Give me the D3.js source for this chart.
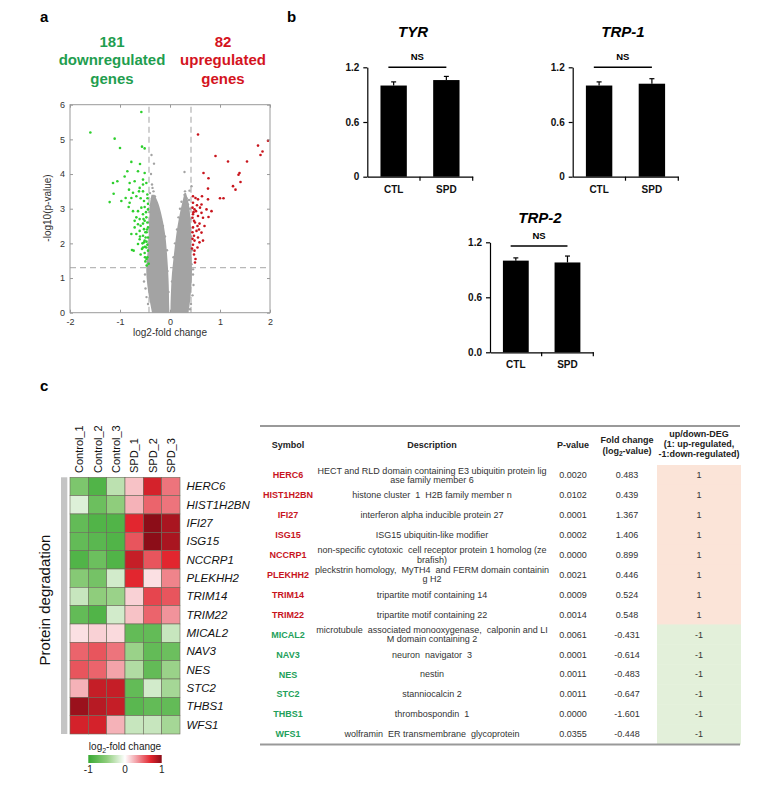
<!DOCTYPE html>
<html><head><meta charset="utf-8">
<script src="https://cdn.jsdelivr.net/npm/d3@7"></script>
<style>body{margin:0;background:#fff} text{font-family:Arial,"Liberation Sans",sans-serif}</style>
</head><body><svg id="c" width="760" height="795"></svg>
<script>
// ---------------- DATA ----------------
// Panel a: volcano (log2 fold change, -log10 p)
const greenPts = [[-0.573,5.79],[-1.593,5.2],[-1.107,5.02],[-1.0,4.75],[-0.56,4.79],[-0.507,4.74],[-0.773,4.35],[-0.6,4.29],
[-0.853,4.08],[-0.64,4.08],[-0.507,4.03],[-0.907,3.93],[-1.14,3.74],[-1.053,3.79],[-0.707,3.79],[-0.807,3.74],[-0.54,3.84],
[-0.473,3.74],[-0.607,3.6],[-0.82,3.55],[-0.74,3.46],[-1.127,3.43],[-0.54,3.5],[-0.453,3.41],[-0.673,3.36],[-0.587,3.3],
[-0.52,3.22],[-0.973,3.22],[-1.207,3.19],[-0.807,3.17],[-0.44,3.14],[-0.507,3.05],[-0.827,3.05],[-0.64,2.93],[-0.44,2.98],
[-0.54,2.84],[-0.673,2.75],[-0.607,2.7],[-0.473,2.75],[-0.453,2.6],[-0.54,2.57],[-0.64,2.55],[-0.707,2.46],[-0.44,2.46],
[-0.52,2.41],[-0.607,2.36],[-0.467,2.32],[-0.773,2.27],[-0.54,2.22],[-0.44,2.17],[-0.607,2.12],[-0.507,2.08],[-0.64,1.98],
[-0.453,1.96],[-0.54,1.88],[-0.76,1.81],[-0.727,1.79],[-0.44,1.79],[-0.507,1.72],[-0.587,1.68],[-0.453,1.6],[-0.493,1.48],
[-0.427,1.41],[-0.467,1.36],[-0.493,2.32],[-0.487,2.17],[-0.52,2.03],[-0.56,1.84],[-0.473,1.88],[-0.673,2.27],[-0.587,2.51],
[-0.507,2.65],[-0.707,2.65],[-0.573,3.03],[-0.74,2.93],[-0.887,3.31],[-0.62,3.5],[-0.773,3.31],[-0.54,3.7],[-0.47,2.05],
[-0.5,1.9],[-0.46,2.4],[-0.53,2.7],[-0.48,2.9],[-0.45,3.3],[-0.6,2.2],[-0.55,2.0],[-0.47,1.55],[-0.5,1.6]];
const redPts = [[0.56,5.14],[1.96,4.96],[1.76,4.82],[1.85,4.65],[1.81,4.55],[0.91,4.52],[1.16,4.36],[1.54,4.36],[0.67,4.03],
[1.39,4.03],[1.37,3.98],[0.77,3.88],[1.41,3.77],[1.26,3.65],[0.76,3.58],[1.31,3.55],[1.07,3.3],[1.0,3.3],[0.64,3.36],[0.76,3.27],
[0.46,3.36],[0.51,3.31],[0.56,3.27],[0.63,3.12],[0.46,3.17],[0.6,3.03],[0.49,2.98],[0.73,2.98],[0.83,2.93],[0.46,2.84],[0.56,2.79],
[0.66,2.74],[0.77,2.76],[0.48,2.65],[0.59,2.57],[0.69,2.5],[0.46,2.46],[0.53,2.36],[0.63,2.31],[0.48,2.22],[0.56,2.17],[0.49,2.08],
[0.59,2.03],[0.46,1.96],[0.55,1.88],[0.49,1.79],[0.48,1.68],[0.45,2.13],[0.45,2.32],[0.45,2.74],[0.45,3.03],[0.52,2.93],[0.63,2.88],
[0.55,2.5],[0.66,2.08],[0.51,1.55],[0.5,2.6],[0.47,2.9],[0.54,3.1],[0.44,1.85],[0.58,2.4],[0.5,1.45]];
const grayPts = [[-0.37,4.55],[-0.32,4.3],[-0.38,4.0],[-0.36,3.7],[-0.33,3.5],[-0.3,3.35],[-0.36,3.3],[-0.27,3.15],[-0.22,2.9],
[-0.18,2.7],[-0.35,3.6],[-0.4,3.45],[0.29,4.06],[0.43,3.65],[0.29,3.4],[0.33,3.3],[0.39,3.52],[0.23,3.2],[0.36,3.12],[0.3,3.5],
[0.2,3.0],[0.17,2.75],[-0.5,1.1],[-0.52,0.9],[-0.49,0.7],[-0.47,0.45],[-0.44,0.25],[0.46,1.1],[0.47,0.8],[0.45,0.5],[0.42,0.25],
[0.46,1.25],[0.4,0.1],[-0.06,1.8],[-0.1,2.2],[-0.05,1.2],[0.07,1.6],[0.1,2.0],[0.14,2.4],[-0.14,2.5],[0.04,0.9],[-0.03,0.6],
[-0.43,2.0],[-0.42,2.6],[-0.41,2.9],[-0.44,1.6],[0.42,2.2],[0.41,2.7],[0.4,3.0],[0.44,1.8],[0.43,1.4],[-0.39,3.1],[0.38,3.25]];
// dense grey core of the two arms: [-log10 p, outer log2FC, inner log2FC]
const grayLeftArm = [[0,-0.36,-0.01],[0.3,-0.40,-0.02],[0.6,-0.44,-0.02],[1.0,-0.47,-0.03],[1.3,-0.48,-0.04],[1.7,-0.45,-0.06],
[2.1,-0.43,-0.08],[2.5,-0.42,-0.12],[2.9,-0.41,-0.18],[3.2,-0.40,-0.24],[3.4,-0.37,-0.31]];
const grayRightArm = [[0,0.37,0.01],[0.3,0.40,0.01],[0.6,0.42,0.02],[1.0,0.44,0.03],[1.3,0.44,0.05],[1.7,0.43,0.08],
[2.1,0.43,0.11],[2.5,0.42,0.15],[2.9,0.40,0.2],[3.2,0.37,0.25],[3.45,0.32,0.29]];
const volXTicks = [-2,-1,0,1,2];
const volYTicks = [0,1,2,3,4,5,6];
const fcCut = 0.42, pCut = 1.301;

// Panel b: bar charts
const barGenes = ["TYR","TRP-1","TRP-2"];
const barGroups = ["CTL","SPD"];
const barMeans = [[1.0,1.06],[1.0,1.02],[1.0,0.98]];
const barErrs = [[0.04,0.04],[0.04,0.055],[0.03,0.07]];
const barTicks = [0,0.6,1.2];
const barTickLabels = [["0","0.6","1.2"],["0","0.6","1.2"],["0.0","0.6","1.2"]];
const nsLevel = [1.2,1.2,1.16];

// Panel c: heatmap
const samples = ["Control_1","Control_2","Control_3","SPD_1","SPD_2","SPD_3"];
const hmGenes = ["HERC6","HIST1H2BN","IFI27","ISG15","NCCRP1","PLEKHH2","TRIM14","TRIM22","MICAL2","NAV3","NES","STC2","THBS1","WFS1"];
const hmValues = [
 [-0.6,-0.85,-0.3,0.2,0.75,0.45],
 [-0.15,-0.7,-0.5,0.25,0.5,0.45],
 [-0.75,-0.85,-0.85,0.7,1.0,0.9],
 [-0.75,-0.8,-0.85,0.55,1.0,0.9],
 [-0.85,-0.7,-0.85,0.8,0.55,0.7],
 [-0.55,-0.65,-0.2,0.7,0.1,0.4],
 [-0.25,-0.5,-0.45,0.15,0.6,0.55],
 [-0.75,-0.85,-0.2,0.2,0.5,0.35],
 [0.1,0.15,0.12,-0.75,-0.75,-0.25],
 [0.5,0.55,0.45,-0.45,-0.75,-0.7],
 [0.55,0.5,0.3,-0.35,-0.75,-0.45],
 [0.25,0.8,0.8,-0.75,-0.2,-0.4],
 [0.95,0.85,0.8,-0.8,-0.75,-0.75],
 [0.75,0.75,0.25,-0.25,-0.25,-0.4]];
const cbTicks = [-1,0,1];

// Panel c: table
const tSymbols = hmGenes;
const tDesc = ["HECT and RLD domain containing E3 ubiquitin protein lig|ase family member 6",
 "histone cluster  1  H2B family member n","interferon alpha inducible protein 27","ISG15 ubiquitin-like modifier",
 "non-specific cytotoxic  cell receptor protein 1 homolog (ze|brafish)",
 "pleckstrin homology,  MyTH4  and FERM domain containin|g H2","tripartite motif containing 14","tripartite motif containing 22",
 "microtubule  associated monooxygenase,  calponin and LI|M domain containing 2","neuron  navigator  3","nestin","stanniocalcin 2",
 "thrombospondin  1","wolframin  ER transmembrane  glycoprotein"];
const tPval = ["0.0020","0.0102","0.0001","0.0002","0.0000","0.0021","0.0009","0.0014","0.0061","0.0001","0.0011","0.0011","0.0000","0.0355"];
const tFC = ["0.483","0.439","1.367","1.406","0.899","0.446","0.524","0.548","-0.431","-0.614","-0.483","-0.647","-1.601","-0.448"];
const tDEG = [1,1,1,1,1,1,1,1,-1,-1,-1,-1,-1,-1];

// ---------------- DRAW ----------------
const svg = d3.select("#c");
svg.append("rect").attr("width",760).attr("height",795).attr("fill","#fff");
const GREEN="#1f9e4f", RED="#d4141e";

// panel labels
[["a",40,22],["b",287,22],["c",40,391]].forEach(([t,x,y])=>svg.append("text").attr("x",x).attr("y",y)
  .attr("font-size",15).attr("font-weight","bold").text(t));

// ---- Panel a ----
const hdr = svg.append("g").attr("font-size",15).attr("font-weight","bold").attr("text-anchor","middle");
["181","downregulated","genes"].forEach((t,i)=>hdr.append("text").attr("x",112).attr("y",47+i*18.3).attr("fill",GREEN).text(t));
["82","upregulated","genes"].forEach((t,i)=>hdr.append("text").attr("x",223).attr("y",47+i*18.3).attr("fill",RED).text(t));

const vx = d3.scaleLinear().domain([-2,2]).range([70,270]);
const vy = d3.scaleLinear().domain([0,6]).range([312.7,104.7]);
const va = svg.append("g");
va.append("line").attr("x1",vx(-2)).attr("x2",vx(2)).attr("y1",vy(pCut)).attr("y2",vy(pCut));
[-fcCut,fcCut].forEach(v=>va.append("line").attr("x1",vx(v)).attr("x2",vx(v)).attr("y1",vy(0)).attr("y2",vy(6)));
va.selectAll("line").attr("stroke","#b8b8b8").attr("stroke-width",1.3).attr("stroke-dasharray","6,4");
const armArea = d3.area().curve(d3.curveBasis).y(d=>vy(d[0])).x0(d=>vx(d[1])).x1(d=>vx(d[2]));
[grayLeftArm,grayRightArm].forEach(arm=>va.append("path").attr("d",armArea(arm)).attr("fill","#a3a3a3"));
va.selectAll("circle.g").data(grayPts).join("circle").attr("class","g").attr("cx",d=>vx(d[0])).attr("cy",d=>vy(d[1])).attr("r",1.2).attr("fill","#a3a3a3");
va.selectAll("circle.gr").data(greenPts).join("circle").attr("class","gr").attr("cx",d=>vx(d[0])).attr("cy",d=>vy(d[1])).attr("r",1.3).attr("fill","#2ecf2e");
va.selectAll("circle.rd").data(redPts).join("circle").attr("class","rd").attr("cx",d=>vx(d[0])).attr("cy",d=>vy(d[1])).attr("r",1.3).attr("fill","#c8141c");
va.append("rect").attr("x",vx(-2)).attr("y",vy(6)).attr("width",vx(2)-vx(-2)).attr("height",vy(0)-vy(6)).attr("fill","none").attr("stroke","#9a9a9a");
const styleAx = g=>{g.select(".domain").remove(); g.selectAll("line").attr("stroke","#9a9a9a"); g.selectAll("text").attr("fill","#333").attr("font-size",9);};
const intFmt = d=>String(d);
va.append("g").attr("transform",`translate(0,${vy(0)})`).call(d3.axisBottom(vx).tickValues(volXTicks).tickFormat(intFmt).tickSize(-3).tickPadding(6)).call(styleAx);
va.append("g").attr("transform",`translate(0,${vy(6)})`).call(d3.axisTop(vx).tickValues(volXTicks).tickSize(-3).tickFormat("")).call(styleAx);
va.append("g").attr("transform",`translate(${vx(-2)},0)`).call(d3.axisLeft(vy).tickValues(volYTicks).tickFormat(intFmt).tickSize(-3).tickPadding(5)).call(styleAx);
va.append("g").attr("transform",`translate(${vx(2)},0)`).call(d3.axisRight(vy).tickValues(volYTicks).tickSize(-3).tickFormat("")).call(styleAx);
va.append("text").attr("x",170).attr("y",336).attr("text-anchor","middle").attr("font-size",10).attr("fill","#333").text("log2-fold change");
va.append("text").attr("transform","translate(51,208) rotate(-90)").attr("text-anchor","middle").attr("font-size",10).attr("fill","#333").text("-log10(p-value)");

// ---- Panel b ----
const barLayout = [{x0:367.3,x1:472.7,yb:176.7,yt:67.3,tx:413,ty:37},
                   {x0:572.7,x1:678.3,yb:176.7,yt:67.3,tx:623,ty:37},
                   {x0:490,x1:593.3,yb:352.3,yt:242.3,tx:540,ty:223}];
barGenes.forEach((gName,i)=>{
  const L = barLayout[i];
  const g = svg.append("g");
  const x = d3.scaleBand().domain(barGroups).range([L.x0,L.x1]).paddingInner(0.5).paddingOuter(0.25);
  const y = d3.scaleLinear().domain([0,1.2]).range([L.yb,L.yt]);
  g.append("text").attr("x",L.tx).attr("y",L.ty).attr("text-anchor","middle").attr("font-size",15)
    .attr("font-weight","bold").attr("font-style","italic").text(gName);
  g.selectAll("rect").data(barGroups).join("rect").attr("x",d=>x(d)).attr("width",x.bandwidth())
    .attr("y",(d,j)=>y(barMeans[i][j])).attr("height",(d,j)=>y(0)-y(barMeans[i][j])).attr("fill","#000");
  barGroups.forEach((d,j)=>{
    const cx = x(d)+x.bandwidth()/2, m=barMeans[i][j], e=barErrs[i][j];
    g.append("line").attr("x1",cx).attr("x2",cx).attr("y1",y(m)).attr("y2",y(m+e)).attr("stroke","#000").attr("stroke-width",1.2);
    g.append("line").attr("x1",cx-2.5).attr("x2",cx+2.5).attr("y1",y(m+e)).attr("y2",y(m+e)).attr("stroke","#000").attr("stroke-width",1.2);
  });
  const ya = g.append("g").attr("transform",`translate(${L.x0},0)`)
    .call(d3.axisLeft(y).tickValues(barTicks).tickFormat((d,j)=>barTickLabels[i][j]).tickSize(4).tickSizeOuter(0).tickPadding(4));
  ya.selectAll("text").attr("font-size",10).attr("font-weight","bold").attr("fill","#111");
  ya.selectAll("line,path").attr("stroke","#000").attr("stroke-width",1.2);
  const xa = g.append("g").attr("transform",`translate(0,${L.yb})`).call(d3.axisBottom(x).tickSize(0).tickPadding(9));
  xa.select(".domain").attr("stroke","#000").attr("stroke-width",1.2);
  xa.selectAll("text").attr("font-size",10).attr("font-weight","bold").attr("fill","#111");
  [1,2].forEach(k=>{const bx = Math.min(L.x0 + x.step()*k, L.x1);
    g.append("line").attr("x1",bx).attr("x2",bx).attr("y1",L.yb).attr("y2",L.yb+4).attr("stroke","#000").attr("stroke-width",1.2);});
  const nx1 = x("CTL")+x.bandwidth()*0.3, nx2 = x("SPD")+x.bandwidth()*0.5, ny=y(nsLevel[i]);
  g.append("line").attr("x1",nx1).attr("x2",nx2).attr("y1",ny).attr("y2",ny).attr("stroke","#000").attr("stroke-width",1.5);
  g.append("text").attr("x",(nx1+nx2)/2).attr("y",ny-7).attr("text-anchor","middle").attr("font-size",9.5).attr("font-weight","bold").text("NS");
});

// ---- Panel c: heatmap ----
const hx = d3.scaleBand().domain(samples).range([70,180]);
const hy = d3.scaleBand().domain(hmGenes).range([477.3,734]);
const hmColor = d3.scaleLinear().domain([-1,-0.5,0,0.3,0.7,1])
  .range(["#37a932","#8fcd7c","#ffffff","#f3a3aa","#e2262f","#8c0d18"]).clamp(true);
const hm = svg.append("g");
svg.append("rect").attr("x",61).attr("y",477.3).attr("width",6.3).attr("height",734-477.3).attr("fill","#c4c4c4");
hmGenes.forEach((gn,r)=>samples.forEach((s,c)=>{
  hm.append("rect").attr("x",hx(s)).attr("y",hy(gn)).attr("width",hx.bandwidth()).attr("height",hy.bandwidth())
    .attr("fill",hmColor(hmValues[r][c])).attr("stroke","#6b6b5a").attr("stroke-width",0.6);
}));
samples.forEach(s=>svg.append("text").attr("transform",`translate(${hx(s)+hx.bandwidth()/2+4},473) rotate(-90)`)
  .attr("font-size",11).attr("fill","#111").text(s));
hmGenes.forEach(gn=>svg.append("text").attr("x",186.5).attr("y",hy(gn)+hy.bandwidth()/2+4)
  .attr("font-size",11.5).attr("font-style","italic").attr("fill","#111").text(gn));
svg.append("text").attr("transform","translate(50,600) rotate(-90)").attr("text-anchor","middle").attr("font-size",15).attr("fill","#111").text("Protein degradation");
const cbx = d3.scaleLinear().domain([-1,1]).range([88.3,161.7]);
const grad = svg.append("defs").append("linearGradient").attr("id","cbg");
d3.range(0,1.0001,0.05).forEach(t=>grad.append("stop").attr("offset",t).attr("stop-color",hmColor(-1+2*t)));
svg.append("rect").attr("x",cbx(-1)).attr("y",755).attr("width",cbx(1)-cbx(-1)).attr("height",8).attr("fill","url(#cbg)");
const cbt = svg.append("text").attr("x",125).attr("y",750).attr("text-anchor","middle").attr("font-size",10).attr("fill","#222");
cbt.append("tspan").text("log");
cbt.append("tspan").attr("font-size",7).attr("dy",3).text("2");
cbt.append("tspan").attr("dy",-3).text("-fold change");
cbTicks.forEach(v=>svg.append("text").attr("x",cbx(v)).attr("y",773).attr("text-anchor","middle").attr("font-size",10).attr("fill","#222").text(v));

// ---- Panel c: table ----
const colX = {sym:288, desc:432, p:573, fc:627, deg:699};
const ty = d3.scaleBand().domain(tSymbols).range([465,744]);
const tb = svg.append("g");
tb.selectAll("rect").data(tSymbols).join("rect").attr("x",657).attr("y",d=>ty(d)).attr("width",84).attr("height",ty.bandwidth()+0.5)
  .attr("fill",(d,i)=>tDEG[i]>0?"#fbe4d8":"#e3f0da");
tb.append("line").attr("x1",260).attr("x2",740).attr("y1",426).attr("y2",426).attr("stroke","#999").attr("stroke-width",2);
tb.append("line").attr("x1",260).attr("x2",740).attr("y1",744.5).attr("y2",744.5).attr("stroke","#999").attr("stroke-width",2);
const hText=(x,y,t)=>tb.append("text").attr("x",x).attr("y",y).attr("text-anchor","middle").attr("font-size",9).attr("font-weight","bold").attr("fill","#222").text(t);
hText(colX.sym,448,"Symbol"); hText(colX.desc,448,"Description"); hText(colX.p,448,"P-value");
hText(colX.fc,443,"Fold change");
const fl = tb.append("text").attr("x",colX.fc).attr("y",454).attr("text-anchor","middle").attr("font-size",9).attr("font-weight","bold").attr("fill","#222");
fl.append("tspan").text("(log"); fl.append("tspan").attr("font-size",6.5).attr("dy",2).text("2"); fl.append("tspan").attr("dy",-2).text("-value)");
hText(colX.deg,437,"up/down-DEG"); hText(colX.deg,447,"(1: up-regulated,"); hText(colX.deg,457,"-1:down-regulated)");
tSymbols.forEach((s,i)=>{
  const cy = ty(s)+ty.bandwidth()/2;
  tb.append("text").attr("x",colX.sym).attr("y",cy+3.3).attr("text-anchor","middle").attr("font-size",9).attr("font-weight","bold")
    .attr("fill",tDEG[i]>0?"#c8141e":"#22a05a").text(s);
  const lines = tDesc[i].split("|");
  lines.forEach((ln,k)=>tb.append("text").attr("x",colX.desc).attr("y",cy+3.2+(k-(lines.length-1)/2)*9.3).attr("text-anchor","middle")
    .attr("font-size",9).attr("fill","#333").style("white-space","pre").text(ln));
  [[colX.p,tPval[i]],[colX.fc,tFC[i]],[colX.deg,String(tDEG[i])]].forEach(([x,t])=>tb.append("text").attr("x",x).attr("y",cy+3.2)
    .attr("text-anchor","middle").attr("font-size",9).attr("fill","#333").text(t));
});
</script></body></html>
